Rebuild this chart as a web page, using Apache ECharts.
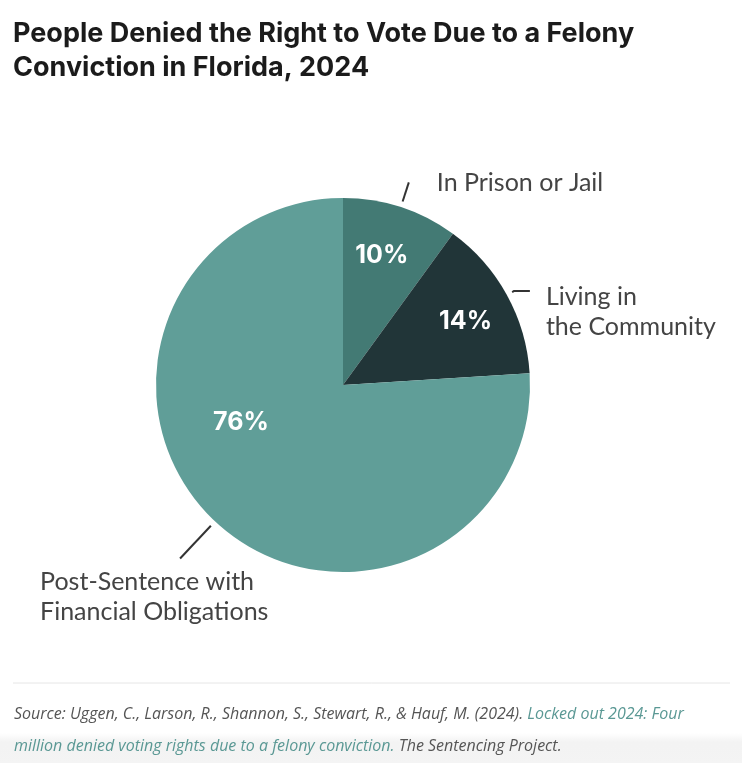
<!DOCTYPE html>
<html lang="en">
<head>
    <meta charset="UTF-8">
    <title>People Denied the Right to Vote Due to a Felony Conviction in Florida, 2024</title>
    <script src="https://cdn.jsdelivr.net/npm/echarts@6/dist/echarts.min.js"></script>
    <style>
        html, body { margin: 0; padding: 0; background: #fff; }
        #main { width: 742px; height: 770px; }
    </style>
</head>
<body>
    <div id="main"></div>
<script>
    // data
    var categories = ['In Prison or Jail', 'Living in\nthe Community', 'Post-Sentence with\nFinancial Obligations'];
    var shares = [10, 14, 76];
    var colors = ['#437a74', '#213538', '#609e98'];

    var titleText = 'People Denied the Right to Vote Due to a Felony\nConviction in Florida, 2024';
    var sourceText = '{s|Source: Uggen, C., Larson, R., Shannon, S., Stewart, R., & Hauf, M. (2024).} {l|Locked out 2024: Four}\n' +
        '{l|million denied voting rights due to a felony conviction.} {s|The Sentencing Project.}';

    // label tweaks (offsets in px)
    var innerOffset = [[9, -38], [38, -17], [-36, -33]];
    var outerOffset = [[28, 1], [16, -9], [-140, 8]];
    var outerLine = [[20, 0], [2, 16], [45, 0]];

    var myChart = echarts.init(document.getElementById('main'));

    var center = [343, 385];

    var option = {
        backgroundColor: '#ffffff',
        animation: false,
        title: [{
            text: titleText,
            left: 8,
            top: 12,
            textStyle: {
                fontFamily: 'Inter',
                fontWeight: 'bold',
                fontSize: 27,
                lineHeight: 34,
                color: '#1b1b1b'
            }
        }, {
            text: sourceText,
            left: 9,
            top: 693,
            textStyle: {
                fontFamily: 'Open Sans',
                fontWeight: 'normal',
                fontSize: 16,
                lineHeight: 32,
                rich: {
                    s: { fontFamily: 'Open Sans', fontStyle: 'italic', fontWeight: 'normal', fontSize: 16, color: '#555555', lineHeight: 32 },
                    l: { fontFamily: 'Open Sans', fontStyle: 'italic', fontWeight: 'normal', fontSize: 16, color: '#5a9894', lineHeight: 32 }
                }
            }
        }],
        graphic: [{
            type: 'line',
            shape: { x1: 13, y1: 683, x2: 730, y2: 683 },
            style: { stroke: '#e6e6e6', lineWidth: 1 },
            silent: true
        }, {
            type: 'rect',
            shape: { x: 0, y: 733, width: 742, height: 30 },
            style: {
                fill: new echarts.graphic.LinearGradient(0, 0, 0, 1, [
                    { offset: 0, color: 'rgba(240,240,240,0)' },
                    { offset: 0.3, color: 'rgba(240,240,240,0.8)' },
                    { offset: 1, color: 'rgba(244,244,244,1)' }
                ])
            },
            z: -1,
            silent: true
        }],
        series: [{
            // slices with percentages inside
            type: 'pie',
            center: center,
            radius: [0, 187],
            startAngle: 90,
            clockwise: true,
            silent: true,
            itemStyle: { borderWidth: 0 },
            label: {
                show: true,
                position: 'inside',
                formatter: '{c}%',
                fontFamily: 'Inter',
                fontWeight: 'bold',
                fontSize: 25,
                color: '#ffffff'
            },
            labelLine: { show: false },
            labelLayout: function (p) {
                var o = innerOffset[p.dataIndex];
                return { dx: o[0], dy: o[1] };
            },
            data: categories.map(function (name, i) {
                return { name: name, value: shares[i], itemStyle: { color: colors[i] } };
            })
        }, {
            // transparent copy that carries the outer category labels
            type: 'pie',
            center: center,
            radius: [0, 193],
            startAngle: 90,
            clockwise: true,
            silent: true,
            z: 3,
            itemStyle: { color: 'rgba(0,0,0,0)', borderWidth: 0 },
            avoidLabelOverlap: false,
            label: {
                show: true,
                position: 'outside',
                formatter: '{b}',
                fontFamily: 'Lato',
                fontSize: 25,
                lineHeight: 30,
                color: '#444444'
            },
            labelLine: {
                show: true,
                lineStyle: { color: '#333333', width: 2 }
            },
            labelLayout: function (p) {
                var pts = p.labelLinePoints;
                var end = pts[pts.length - 1];
                var o = outerOffset[p.dataIndex];
                return {
                    x: end[0] + o[0],
                    y: end[1] + o[1],
                    align: 'left',
                    verticalAlign: p.dataIndex === 0 ? 'middle' : 'top',
                    labelLinePoints: pts
                };
            },
            data: categories.map(function (name, i) {
                return {
                    name: name,
                    value: shares[i],
                    labelLine: { length: outerLine[i][0], length2: outerLine[i][1] }
                };
            })
        }]
    };

    myChart.setOption(option);
</script>
</body>
</html>
